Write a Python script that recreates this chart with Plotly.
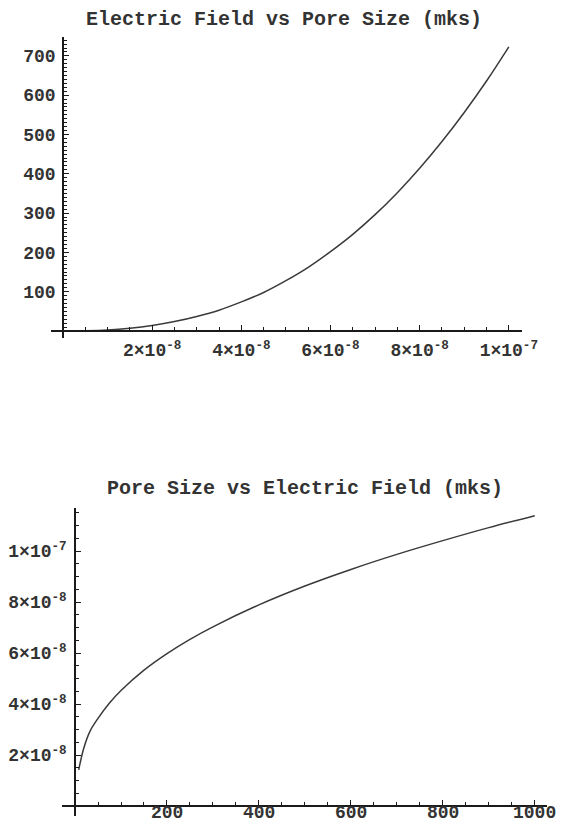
import numpy as np
import plotly.graph_objects as go

# ---------------- data ----------------
# Top plot: Electric Field (V/m) vs Pore Size (m)
pore_size_top = [0.5e-8, 1.0e-8, 1.5e-8, 2.0e-8, 2.5e-8, 3.0e-8, 3.5e-8, 4.0e-8,
                 4.5e-8, 5.0e-8, 5.5e-8, 6.0e-8, 6.5e-8, 7.0e-8, 7.5e-8, 8.0e-8,
                 8.5e-8, 9.0e-8, 9.5e-8, 1.0e-7]
field_top = [0.5, 2.5, 7, 14, 24, 37, 53, 74, 98, 128, 162, 202, 246, 296,
             352, 414, 482, 556, 636, 723]

# Bottom plot: Pore Size (m) vs Electric Field (V/m)
field_bottom = [8, 19, 33, 50, 75, 100, 150, 200, 250, 300, 400, 500, 600,
                700, 800, 900, 1000]
pore_size_bottom = [1.42e-8, 2.27e-8, 2.95e-8, 3.44e-8, 4.04e-8, 4.53e-8,
                    5.33e-8, 5.98e-8, 6.54e-8, 7.03e-8, 7.89e-8, 8.63e-8,
                    9.28e-8, 9.87e-8, 10.41e-8, 10.92e-8, 11.39e-8]

top_title = "Electric Field vs Pore Size (mks)"
bottom_title = "Pore Size vs Electric Field (mks)"

top_x_ticks = [2e-8, 4e-8, 6e-8, 8e-8, 1e-7]
top_x_labels = ["2×10<sup>-8</sup>", "4×10<sup>-8</sup>", "6×10<sup>-8</sup>",
                "8×10<sup>-8</sup>", "1×10<sup>-7</sup>"]
top_y_ticks = [100, 200, 300, 400, 500, 600, 700]
top_y_labels = ["100", "200", "300", "400", "500", "600", "700"]

bottom_x_ticks = [200, 400, 600, 800, 1000]
bottom_x_labels = ["200", "400", "600", "800", "1000"]
bottom_y_ticks = [2e-8, 4e-8, 6e-8, 8e-8, 1e-7]
bottom_y_labels = ["2×10<sup>-8</sup>", "4×10<sup>-8</sup>", "6×10<sup>-8</sup>",
                   "8×10<sup>-8</sup>", "1×10<sup>-7</sup>"]

# minor tick steps
top_x_minor_step = 0.5e-8
top_y_minor_step = 10
bottom_x_minor_step = 50
bottom_y_minor_step = 0.5e-8

# ---------------- layout helpers ----------------
# The page keeps its default 8px body margin. The figure takes the full
# container width (autosize) and a fixed height that never overflows the page.
OFF = 8
W_DESIGN = 574 - 2 * OFF
H = 833 - 2 * OFF


def pxx(x):
    return (x - OFF) / W_DESIGN


def pxy(y):
    return 1 - (y - OFF) / H


FONT = "Liberation Mono"
TXT = "#333333"
AX = "#1a1a1a"
tickfont = dict(family=FONT, size=18, color=TXT, weight="bold")

# Top plot geometry (pixels in the 574x833 window)
t_xpix = (45, 536)
t_ypix = (37, 338)
t_xrange = [-2.8e-9, 1.030e-7]
t_yrange = [-17.8, 748]
# Bottom plot geometry
b_xpix = (57, 562)
b_ypix = (508, 816)
b_xrange = [-28.2, 1027]
b_yrange = [-0.39e-8, 11.69e-8]


def frac(v, r):
    return (v - r[0]) / (r[1] - r[0])


t_xdom = [pxx(t_xpix[0]), pxx(t_xpix[1])]
t_ydom = [pxy(t_ypix[1]), pxy(t_ypix[0])]
b_xdom = [pxx(b_xpix[0]), pxx(b_xpix[1])]
b_ydom = [max(0.0, pxy(b_ypix[1])), min(1.0, pxy(b_ypix[0]))]

t_yaxis_pos = t_xdom[0] + frac(0, t_xrange) * (t_xdom[1] - t_xdom[0])
t_xaxis_pos = t_ydom[0] + frac(0, t_yrange) * (t_ydom[1] - t_ydom[0])
b_yaxis_pos = b_xdom[0] + frac(0, b_xrange) * (b_xdom[1] - b_xdom[0])
b_xaxis_pos = b_ydom[0] + frac(0, b_yrange) * (b_ydom[1] - b_ydom[0])


def minor_vals(step, hi):
    n = int(np.floor(hi / step))
    return [step * i for i in range(1, n + 1)]


def axis(domain, rng, pos, tickvals, ticktext, minor, standoff, labels=True):
    return dict(
        domain=domain, range=rng, anchor="free", position=pos,
        showline=True, linecolor=AX, linewidth=1.6,
        ticks="inside", ticklen=5, tickwidth=1.3, tickcolor=AX,
        tickmode="array", tickvals=tickvals, ticktext=ticktext,
        showticklabels=labels,
        tickfont=tickfont, ticklabelstandoff=standoff,
        showgrid=False, zeroline=False,
        minor=dict(ticks="inside", ticklen=3, tickwidth=1, tickcolor=AX,
                   tickmode="array", tickvals=minor, showgrid=False),
    )


fig = go.Figure()
fig.add_trace(go.Scatter(x=pore_size_top, y=field_top, mode="lines",
                         line=dict(color="#3a3a3a", width=1.5, shape="spline"),
                         xaxis="x", yaxis="y", hoverinfo="skip"))
fig.add_trace(go.Scatter(x=field_bottom, y=pore_size_bottom, mode="lines",
                         line=dict(color="#3a3a3a", width=1.5, shape="spline"),
                         xaxis="x2", yaxis="y2", hoverinfo="skip"))

annotations = [
    dict(text=top_title, x=pxx(288), y=pxy(19), xref="paper", yref="paper",
         showarrow=False, xanchor="center", yanchor="middle", borderpad=0,
         font=dict(family=FONT, size=20, color=TXT, weight="bold")),
    dict(text=bottom_title, x=pxx(310), y=pxy(488), xref="paper", yref="paper",
         showarrow=False, xanchor="center", yanchor="middle", borderpad=0,
         font=dict(family=FONT, size=20, color=TXT, weight="bold")),
]
# bottom x tick labels placed on the x2 data scale, close under the axis
for v, t in zip(bottom_x_ticks, bottom_x_labels):
    annotations.append(dict(text=t, x=v, xref="x2", y=pxy(813), yref="paper",
                            showarrow=False, xanchor="center", yanchor="middle",
                            borderpad=0, font=tickfont))

fig.update_layout(
    height=H, autosize=True, margin=dict(l=0, r=0, t=0, b=0),
    paper_bgcolor="white", plot_bgcolor="white", showlegend=False,
    xaxis=axis(t_xdom, t_xrange, t_xaxis_pos, top_x_ticks, top_x_labels,
               minor_vals(top_x_minor_step, t_xrange[1]), 3),
    yaxis=axis(t_ydom, t_yrange, t_yaxis_pos, top_y_ticks, top_y_labels,
               minor_vals(top_y_minor_step, t_yrange[1]), 3),
    xaxis2=axis(b_xdom, b_xrange, b_xaxis_pos, bottom_x_ticks, bottom_x_labels,
                minor_vals(bottom_x_minor_step, b_xrange[1]), 1, labels=False),
    yaxis2=axis(b_ydom, b_yrange, b_yaxis_pos, bottom_y_ticks, bottom_y_labels,
                minor_vals(bottom_y_minor_step, b_yrange[1]), 4),
    annotations=annotations,
)

fig.write_html("out.html", default_width="100%", default_height=f"{H}px",
               config={"displayModeBar": False, "responsive": True})
